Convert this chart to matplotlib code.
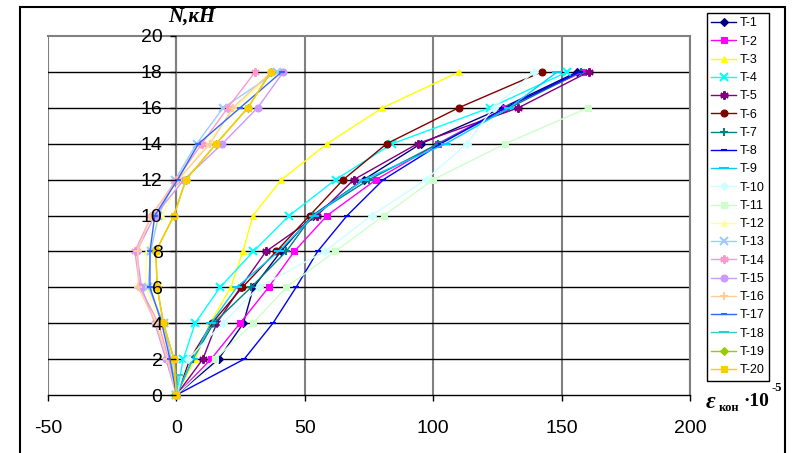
import matplotlib
matplotlib.use("Agg")
import matplotlib.pyplot as plt
from matplotlib.patches import Rectangle

plt.rcParams["axes.unicode_minus"] = False

# load levels N, kN
levels = [0, 2, 4, 6, 8, 10, 12, 14, 16, 18]

# strain readings (x 10^-5) for each gauge
t1 = [0, 16.4, 26.1, 30.0, 40.7, 53.0, 73.0, 95.2, 127.0, 156.1]
t2 = [0, 13.5, 24.8, 35.9, 45.9, 58.7, 77.8, 101.8, 128.0, 158.3]
t3 = [0, 7.3, 13.1, 21.2, 25.9, 29.8, 40.9, 58.7, 80.2, 110.1]
t4 = [0, 2.7, 7.3, 17.0, 30.0, 44.0, 62.0, 84.1, 122.0, 152.2]
t5 = [0, 10.3, 15.7, 25.0, 34.9, 54.8, 69.1, 93.9, 133.2, 160.5]
t6 = [0, 5.3, 13.8, 25.7, 38.9, 51.9, 65.0, 81.9, 109.9, 142.3]
t7 = [0, 6.4, 14.5, 29.1, 42.8, 53.0, 75.0, 102.0, 129.7, 157.5]
t8 = [0, 26.4, 37.6, 46.6, 55.0, 66.5, 80.6, 103.0, 128.0, 157.0]
t9 = [0, 6.4, 13.4, 23.5, 39.8, 53.5, 73.0, 104.9, 129.7, 148.3]
t10 = [0, 4.5, 18.1, 32.0, 57.8, 76.0, 97.1, 113.1, 123.5, 139.2]
t11 = [0, 15.1, 29.8, 42.8, 61.8, 80.8, 100.0, 128.1, 160.3]
t12 = [0, -3.5, -6.0, -12.0, -11.6, -5.7, 1.5, 11.8, 22.9, 38.0]
t13 = [0, -2.0, -5.0, -11.0, -10.0, -7.0, -0.5, 7.9, 18.2, 39.0]
t14 = [0, -3.1, -7.0, -14.2, -16.2, -9.6, 0.0, 9.9, 20.0, 30.7]
t15 = [0, -4.1, -8.4, -13.6, -15.5, -8.4, 3.0, 17.9, 31.6, 41.7]
t16 = [0, -3.5, -8.0, -14.8, -15.0, -10.0, 0.6, 13.1, 22.0, 37.0]
t17 = [0, -2.5, -5.7, -10.3, -10.3, -8.4, 0.5, 8.6, 24.8, 41.0]
t18 = [0, 0.7]
t19 = [0, -1.0, -5.0, -7.5, -8.0, -1.0, 3.7, 15.5, 27.8, 36.8]
t20 = [0, -0.9, -5.1, -7.5, -8.0, -0.9, 3.75, 15.5, 27.8, 36.8]
t18_levels = [0, 1.1]

series = [t1, t2, t3, t4, t5, t6, t7, t8, t9, t10,
          t11, t12, t13, t14, t15, t16, t17, t18, t19, t20]
names = ["T-%d" % (i + 1) for i in range(20)]
colors = ["#000080", "#FF00FF", "#FFFF00", "#00FFFF", "#800080", "#800000",
          "#008080", "#0000FF", "#00CCFF", "#CCFFFF", "#CCFFCC", "#FFFF99",
          "#99CCFF", "#FF99CC", "#CC99FF", "#FFCC99", "#3366FF", "#33CCCC",
          "#99CC00", "#FFCC00"]
markers = ["D", "s", "^", "x", (6, 2, 0), "o", "+", "_", "_", "D",
           "s", "^", "x", (6, 2, 0), "o", "+", "_", "_", "D", "s"]
msizes = [4, 5, 5, 6, 6, 5, 6, 4, 7, 4, 5, 5, 6, 6, 5, 6, 4, 7, 4, 5]

fig = plt.figure(figsize=(7.96, 4.53), dpi=100)
ax = fig.add_axes([48 / 796, 58 / 453, 642 / 796, 359 / 453])

for i, xs in enumerate(series):
    ys = t18_levels if i == 17 else levels[:len(xs)]
    thin = markers[i] in ("x", "+", "_") or isinstance(markers[i], tuple)
    ax.plot(xs, ys, color=colors[i], marker=markers[i], markersize=msizes[i],
            markeredgewidth=1.5 if thin else 0.8,
            lw=1.0, label=names[i], clip_on=False, zorder=3)

ax.set_xlim(-50, 200)
ax.set_ylim(0, 20)
ax.set_xticks([-50, 0, 50, 100, 150, 200])
ax.set_yticks(range(0, 21, 2))

# horizontal grid behind the data, y labels on top of it
for yv in ax.get_yticks()[1:-1]:
    ax.axhline(yv, color="black", lw=1.0, zorder=1)
ax.xaxis.grid(True, color="#808080", lw=1.5)
ax.xaxis.set_zorder(0.5)
ax.yaxis.set_zorder(5)

ax.spines["left"].set_position(("data", 0))
ax.spines["left"].set_color("#808080")
ax.spines["left"].set_linewidth(1.5)
for s in ("top", "right"):
    ax.spines[s].set_color("#808080")
    ax.spines[s].set_linewidth(1.5)
ax.spines["bottom"].set_color("black")
ax.spines["bottom"].set_linewidth(1.0)

ax.tick_params(axis="y", direction="out", length=4, width=1, pad=6,
               labelsize=14, color="black")
ax.tick_params(axis="x", direction="out", length=4, width=1, pad=14,
               labelsize=14, color="black")
for lab in ax.get_xticklabels() + ax.get_yticklabels():
    lab.set_fontfamily("Liberation Sans")

# axis titles
fig.text(192 / 796, 1 - 17 / 453, "N,кН", family="Liberation Serif",
         weight="bold", style="italic", fontsize=15, ha="center", va="center")
fig.text(706 / 796, 1 - 402 / 453, "ε", family="Liberation Serif",
         weight="bold", style="italic", fontsize=17, ha="left", va="center")
fig.text(719 / 796, 1 - 408 / 453, "кон", family="Liberation Serif",
         weight="bold", fontsize=9, ha="left", va="center")
fig.text(743 / 796, 1 - 401 / 453, "·10", family="Liberation Serif",
         weight="bold", fontsize=14, ha="left", va="center")
fig.text(772 / 796, 1 - 388 / 453, "-5", family="Liberation Serif",
         weight="bold", fontsize=9, ha="left", va="center")

leg = fig.legend(loc="upper left", bbox_to_anchor=(707 / 796, 1 - 13 / 453),
                 prop={"family": "Liberation Sans", "size": 9},
                 labelspacing=0.5, handlelength=2.0, handletextpad=0.3,
                 borderpad=0.35, borderaxespad=0, fancybox=False,
                 edgecolor="black", framealpha=1)
leg.get_frame().set_linewidth(1.0)

# outer chart border
fig.add_artist(Rectangle((20 / 796, -0.1), 765 / 796, 1.1 - 7 / 453,
                         transform=fig.transFigure, fill=False,
                         edgecolor="black", lw=1.5))

fig.savefig("out.png", dpi=100)
